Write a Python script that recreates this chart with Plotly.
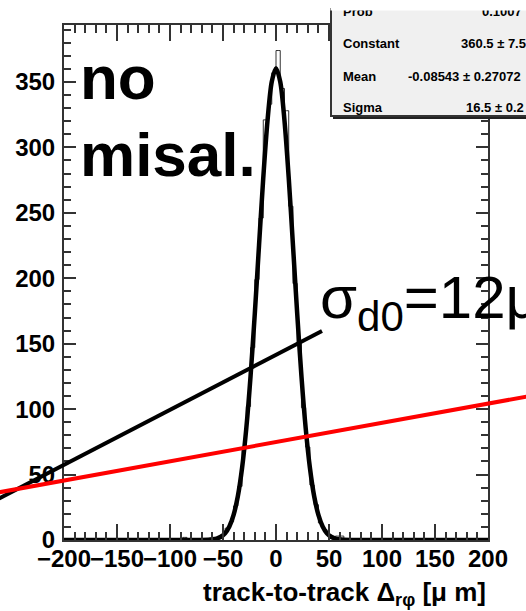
import plotly.graph_objects as go

# ---------------- data ----------------
hist_low = -100          # first bin low edge shown (bins outside are empty)
bin_width = 4
hist_counts = [0, 0, 0, 2, 0, 0, 0, 0, 0,
               1, 0, 2, 4, 9, 14, 26, 41, 70, 102, 147, 199, 246, 321, 333, 357,
               374, 345, 328, 255, 196, 150, 101, 71, 42, 27, 13, 8, 4, 2, 3, 3,
               0, 0, 0, 0, 0, 0, 0, 0, 0]

fit_x = [-200, -64, -60, -56, -52, -48, -44, -40, -36, -32, -28, -24, -20, -16, -12, -8, -4, 0,
         4, 8, 12, 16, 20, 24, 28, 32, 36, 40, 44, 48, 52, 56, 60, 64, 200]
fit_y = [0, 0.2, 0.5, 1.1, 2.5, 5.2, 10.3, 19.2, 33.4, 55.1, 85.5, 125.2, 173.0, 225.3, 276.8, 320.5, 350.1, 360.5,
         350.1, 320.5, 276.8, 225.3, 173.0, 125.2, 85.5, 55.1, 33.4, 19.2, 10.3, 5.2, 2.5, 1.1, 0.5, 0.2, 0]

x_ticks = [-200, -150, -100, -50, 0, 50, 100, 150, 200]
y_ticks = [0, 50, 100, 150, 200, 250, 300, 350]

stats_labels = ["Prob", "Constant", "Mean", "Sigma"]
stats_values = ["0.1007", "360.5 \u00b1 7.5", "-0.08543 \u00b1 0.27072", "16.5 \u00b1 0.2"]

# ---------------- layout helpers ----------------
W, H = 526, 611
L, R, T, B = 64, 488, 25, 540


def px(x):
    return (x - L) / (R - L)


def py(y):
    return (B - y) / (B - T)


def lab(v):
    return ("\u2212" + str(-v)) if v < 0 else str(v)


centers = [hist_low + bin_width * (i + 0.5) for i in range(len(hist_counts))]
hx = [-200] + centers + [200]
hy = [0] + hist_counts + [0]

fig = go.Figure()
fig.add_trace(go.Scatter(x=hx, y=hy, mode="lines", line=dict(color="#333333", width=1, shape="hvh"),
                         showlegend=False, hoverinfo="skip"))
fig.add_trace(go.Scatter(x=fit_x, y=fit_y, mode="lines",
                         line=dict(color="black", width=4.5, shape="spline", smoothing=0.8),
                         showlegend=False, hoverinfo="skip"))

tickfont = dict(family="Liberation Sans", size=24, color="black", weight="bold")
axcol = "#333333"
fig.update_xaxes(range=[-200, 200], tickvals=x_ticks, ticktext=[lab(v) for v in x_ticks],
                 tickangle=0, ticks="inside", ticklen=16, tickwidth=2, tickcolor=axcol,
                 showline=True, linecolor=axcol, linewidth=2, mirror="ticks",
                 showgrid=False, zeroline=False, tickfont=tickfont, ticklabelstandoff=-4,
                 minor=dict(dtick=10, ticks="inside", ticklen=8, tickwidth=2, tickcolor=axcol, showgrid=False))
fig.update_yaxes(range=[0, 393.5], tickvals=y_ticks, ticktext=[lab(v) for v in y_ticks],
                 ticks="inside", ticklen=12, tickwidth=2, tickcolor=axcol,
                 showline=True, linecolor=axcol, linewidth=2, mirror="ticks",
                 showgrid=False, zeroline=False, tickfont=tickfont, ticklabelstandoff=2,
                 minor=dict(dtick=10, ticks="inside", ticklen=7, tickwidth=2, tickcolor=axcol, showgrid=False))

shapes = []
# stats box
shapes.append(dict(type="rect", xref="paper", yref="paper", x0=px(333), x1=px(540), y0=py(119), y1=py(12),
                   fillcolor="#222222", line=dict(width=0), layer="above"))
shapes.append(dict(type="rect", xref="paper", yref="paper", x0=px(331), x1=px(540), y0=py(116), y1=py(9),
                   fillcolor="#f0f0f0", line=dict(color="#333333", width=2), layer="above"))
# overlay lines
shapes.append(dict(type="line", xref="paper", yref="paper", x0=px(-5), y0=py(500.5), x1=px(322), y1=py(331),
                   line=dict(color="black", width=4), layer="above"))
shapes.append(dict(type="line", xref="paper", yref="paper", x0=px(-5), y0=py(493), x1=px(530), y1=py(396),
                   line=dict(color="#ff0000", width=4), layer="above"))
fig.update_layout(shapes=shapes)

ann = []
big = dict(family="Liberation Sans", size=62, color="black", weight="bold")
ann.append(dict(text="no", x=px(78), y=py(77), xanchor="left", yanchor="middle", font=big))
ann.append(dict(text="misal.", x=px(78), y=py(154), xanchor="left", yanchor="middle", font=big))

sf = dict(family="Liberation Sans", size=13, color="black", weight="bold")
rows_y = [11, 43, 76, 108]
vals_x = [524, 528, 523, 526]
for lb, val, yy, vx in zip(stats_labels, stats_values, rows_y, vals_x):
    ann.append(dict(text=lb, x=px(341), y=py(yy), xanchor="left", yanchor="middle", font=sf))
    ann.append(dict(text=val, x=px(vx), y=py(yy), xanchor="right", yanchor="middle", font=sf))
# white strip at the very top (cropped screenshot)
ann.append(dict(text="", x=px(330), y=py(0), xanchor="left", yanchor="top", width=200, height=9,
                bgcolor="white", showarrow=False, borderpad=0))

ann.append(dict(text="\u03c3<sub>d0</sub>=12\u03bcm", x=px(318), y=py(302), xanchor="left", yanchor="middle",
                font=dict(family="Liberation Sans", size=60, color="black")))

ann.append(dict(text="track-to-track \u0394<sub>r\u03c6</sub> [\u03bc m]", x=px(488), y=py(593),
                xanchor="right", yanchor="middle",
                font=dict(family="Liberation Sans", size=26, color="black", weight="bold")))

for a in ann:
    a.setdefault("xref", "paper")
    a.setdefault("yref", "paper")
    a.setdefault("showarrow", False)
fig.update_layout(annotations=ann)

fig.update_layout(width=W, height=H, margin=dict(l=L, r=W - R, t=T, b=H - B),
                  paper_bgcolor="white", plot_bgcolor="white")

fig.write_html("out.html")
